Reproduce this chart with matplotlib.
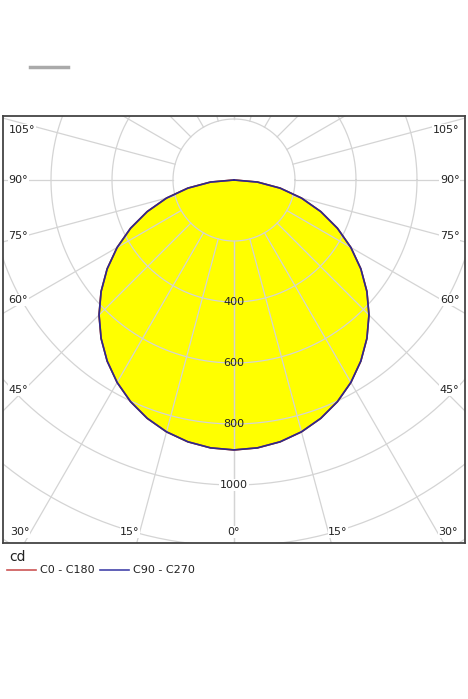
import numpy as np
import matplotlib
matplotlib.use("Agg")
import matplotlib.pyplot as plt

gamma_deg = np.arange(-90, 91, 5)
intensity_c0 = [885*np.cos(np.radians(g)) for g in gamma_deg]  # read as Lambertian-like curve
intensity_c90 = [885*np.cos(np.radians(g)) for g in gamma_deg]
ring_values = [200, 400, 600, 800, 1000, 1200, 1400]
ring_labels = ["400", "600", "800", "1000"]
spoke_angles = list(range(0, 181, 15))
angle_labels_side = [105, 90, 75, 60, 45]
angle_labels_bottom = [30, 15, 0]

fig = plt.figure(figsize=(4.68, 6.99), dpi=100)
W, H = 468, 699
ax = fig.add_axes([3/W, (H-543)/H, 462/W, 427/H])
s = 0.305
cx, cy = 234, 180
ax.set_xlim((3-cx)/s, (465-cx)/s)
ax.set_ylim(-(543-cy)/s, (cy-116)/s)
ax.set_xticks([]); ax.set_yticks([])
for sp in ax.spines.values():
    sp.set_color("#444444"); sp.set_linewidth(1.3)

g = np.radians(gamma_deg)
x0 = np.array(intensity_c0)*np.sin(g); y0 = -np.array(intensity_c0)*np.cos(g)
x1 = np.array(intensity_c90)*np.sin(g); y1 = -np.array(intensity_c90)*np.cos(g)
ax.fill(x1, y1, color="#ffff00", zorder=1)

t = np.linspace(0, 2*np.pi, 400)
for r in ring_values:
    ax.plot(r*np.cos(t), r*np.sin(t), color="#d4d4d4", lw=0.9, zorder=2)
for a in spoke_angles:
    for sgn in (-1, 1):
        ar = np.radians(a)*sgn
        ax.plot([200*np.sin(ar), 3000*np.sin(ar)], [-200*np.cos(ar), -3000*np.cos(ar)],
                color="#d4d4d4", lw=0.9, zorder=2)

ax.plot(x0, y0, color="#cc3333", lw=1.2, zorder=3)
ax.plot(x1, y1, color="#2a2a90", lw=1.2, zorder=4)

for lbl in ring_labels:
    v = float(lbl)
    ax.text(0, -v, lbl, ha="center", va="center", fontsize=8, color="#222222", zorder=5,
            bbox=dict(facecolor="white", edgecolor="none", pad=0.5) if v >= 1000 else None)

ypos = {105: 130, 90: 180, 75: 236, 60: 300, 45: 390}
for a in angle_labels_side:
    yy = 1 - (ypos[a]-116)/427
    ax.text(0.012, yy, f"{a}°", transform=ax.transAxes, ha="left", va="center", fontsize=8,
            color="#222222", bbox=dict(facecolor="white", edgecolor="none", pad=0.5), zorder=6)
    ax.text(0.988, yy, f"{a}°", transform=ax.transAxes, ha="right", va="center", fontsize=8,
            color="#222222", bbox=dict(facecolor="white", edgecolor="none", pad=0.5), zorder=6)
xpos = {30: [20, 448], 15: [130, 338], 0: [234]}
for a in angle_labels_bottom:
    for xx in xpos[a]:
        ax.text((xx-3)/462, 1-(532-116)/427, f"{a}°", transform=ax.transAxes, ha="center",
                va="center", fontsize=8, color="#222222",
                bbox=dict(facecolor="white", edgecolor="none", pad=0.5), zorder=6)

fig.add_artist(plt.Line2D([30/W, 68/W], [1-67/H, 1-67/H], color="#aaaaaa", lw=2.5))
fig.text(9/W, 1-557/H, "cd", fontsize=10, va="center", color="#222222")
fig.add_artist(plt.Line2D([7/W, 36/W], [1-570/H, 1-570/H], color="#cc5555", lw=1.2))
fig.text(40/W, 1-570/H, "C0 - C180", fontsize=8, va="center", color="#222222")
fig.add_artist(plt.Line2D([100/W, 129/W], [1-570/H, 1-570/H], color="#4444aa", lw=1.2))
fig.text(133/W, 1-570/H, "C90 - C270", fontsize=8, va="center", color="#222222")

fig.savefig("out.png", dpi=100)
